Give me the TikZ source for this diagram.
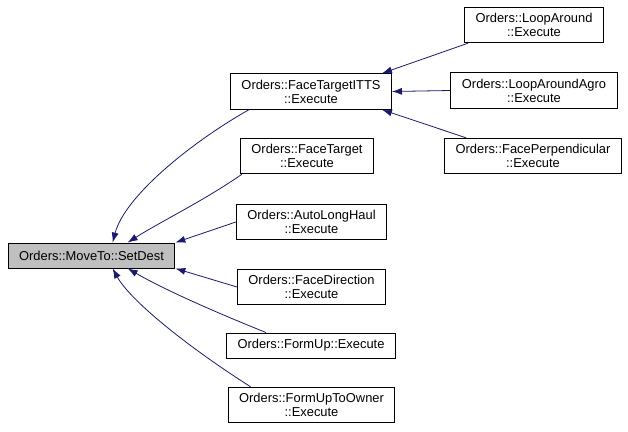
\documentclass[tikz,border=0pt]{standalone}
\usepackage{fontspec}
\setmainfont{Liberation Sans}
\usetikzlibrary{arrows.meta}
\definecolor{edgeblue}{RGB}{25,25,112}
\definecolor{curgray}{RGB}{191,191,191}

\begin{document}
\begin{tikzpicture}[x=1pt,y=-1pt,
          fn/.style={draw=black,fill=white,rectangle,line width=0.9pt,
                     font=\fontsize{12.9}{14}\selectfont,align=center,
                     inner xsep=11pt,inner ysep=6pt,minimum height=25pt},
          cur/.style={fn,fill=curgray},
          call/.style={-{Latex[length=10pt,width=7pt]},edgeblue,line width=0.8pt}
        ]
        \useasboundingbox (0,0) rectangle (628,431);
        \node[cur] (sd)   at (91.5,255.5) {Orders::MoveTo::SetDest};
        \node[fn]  (itts) at (311,91.5)   {Orders::FaceTargetITTS\\::Execute};
        \node[fn]  (ft)   at (307,156)    {Orders::FaceTarget\\::Execute};
        \node[fn]  (alh)  at (311.5,222)  {Orders::AutoLongHaul\\::Execute};
        \node[fn]  (fd)   at (311.5,287)  {Orders::FaceDirection\\::Execute};
        \node[fn]  (fu)   at (311,345.5)  {Orders::FormUp::Execute};
        \node[fn]  (fuo)  at (311.5,405)  {Orders::FormUpToOwner\\::Execute};
        \node[fn]  (la)   at (534,25)     {Orders::LoopAround\\::Execute};
        \node[fn]  (laa)  at (534,90.5)   {Orders::LoopAroundAgro\\::Execute};
        \node[fn]  (fp)   at (533,156)    {Orders::FacePerpendicular\\::Execute};
        % callers of SetDest
        \draw[call] ([xshift=19pt]itts.south west) .. controls (195,140) and (125,195) .. ([xshift=105pt]sd.north west);
        \draw[call] ([xshift=2pt]ft.south west) .. controls (205,200) and (160,222) .. ([xshift=120pt]sd.north west);
        \draw[call] (alh.west) -- (sd.north east);
        \draw[call] (fd.west) -- (sd.south east);
        \draw[call] ([xshift=40pt]fu.north west) .. controls (215,312) and (165,290) .. ([xshift=120pt]sd.south west);
        \draw[call] ([xshift=23pt]fuo.north west) .. controls (185,345) and (130,300) .. ([xshift=105pt]sd.south west);
        % callers of FaceTargetITTS
        \draw[call] ([xshift=4pt]la.south west) -- ([xshift=-10pt]itts.north east);
        \draw[call] (laa.west) -- (itts.east);
        \draw[call] ([xshift=22pt]fp.north west) -- ([xshift=-10pt]itts.south east);
      \end{tikzpicture}
\end{document}
